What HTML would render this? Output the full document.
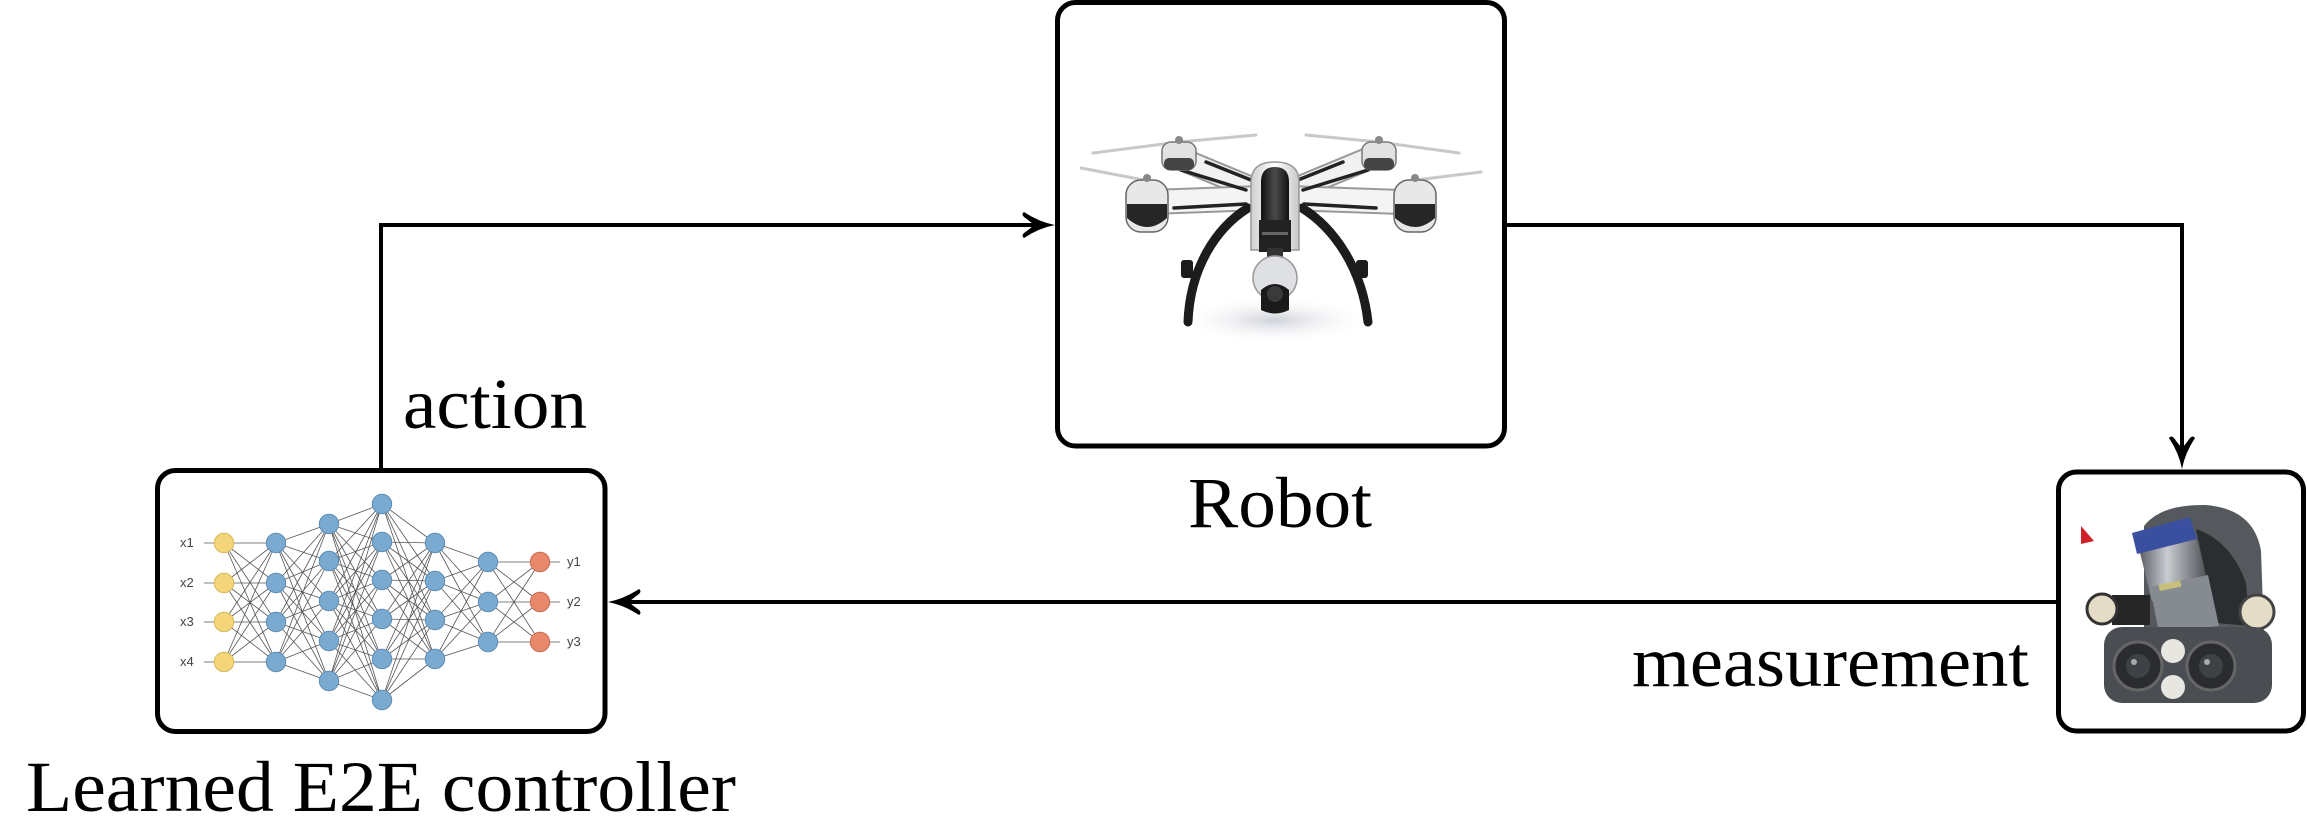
<!DOCTYPE html>
<html>
<head>
<meta charset="utf-8">
<style>
  html,body{margin:0;padding:0;background:#fff;}
  svg{display:block;}
  .lbl{font-family:"Liberation Serif","DejaVu Serif",serif;font-size:72px;fill:#000;}
  .nn{font-family:"Liberation Sans","DejaVu Sans",sans-serif;font-size:13px;fill:#444;}
</style>
</head>
<body>
<svg width="2307" height="834" viewBox="0 0 2307 834" xmlns="http://www.w3.org/2000/svg">
  <defs>
    <radialGradient id="shadow" cx="50%" cy="50%" r="50%">
      <stop offset="0%" stop-color="#cfd1da"/>
      <stop offset="100%" stop-color="#ffffff" stop-opacity="0"/>
    </radialGradient>
    <linearGradient id="shell" x1="0" y1="0" x2="1" y2="0">
      <stop offset="0%" stop-color="#cfcfcf"/>
      <stop offset="50%" stop-color="#ffffff"/>
      <stop offset="100%" stop-color="#c8c8c8"/>
    </linearGradient>
    <linearGradient id="inner" x1="0" y1="0" x2="1" y2="0">
      <stop offset="0%" stop-color="#111"/>
      <stop offset="50%" stop-color="#4a4a4a"/>
      <stop offset="100%" stop-color="#111"/>
    </linearGradient>
    <linearGradient id="cyl" x1="0" y1="0" x2="1" y2="0">
      <stop offset="0%" stop-color="#5e6266"/>
      <stop offset="40%" stop-color="#c9ccd0"/>
      <stop offset="100%" stop-color="#4a4e52"/>
    </linearGradient>
  </defs>

  <!-- Connectors -->
  <polyline points="381,470 381,225 1040,225" fill="none" stroke="#000" stroke-width="4"/>
  <polyline points="1505,225 2182,225 2182,455" fill="none" stroke="#000" stroke-width="4"/>
  <line x1="2056" y1="602" x2="622" y2="602" stroke="#000" stroke-width="4"/>

  <!-- Arrowheads -->
  <path transform="translate(1055,225)" d="M0 0 Q-16 3 -31 13 Q-34 11 -31 8 Q-24 3 -21 0 Q-24 -3 -31 -8 Q-34 -11 -31 -13 Q-16 -3 0 0 Z" fill="#000"/>
  <path transform="translate(2182,469) rotate(90)" d="M0 0 Q-16 3 -31 13 Q-34 11 -31 8 Q-24 3 -21 0 Q-24 -3 -31 -8 Q-34 -11 -31 -13 Q-16 -3 0 0 Z" fill="#000"/>
  <path transform="translate(608,602) rotate(180)" d="M0 0 Q-16 3 -31 13 Q-34 11 -31 8 Q-24 3 -21 0 Q-24 -3 -31 -8 Q-34 -11 -31 -13 Q-16 -3 0 0 Z" fill="#000"/>

  <!-- Boxes -->
  <rect x="157.5" y="470.5" width="447.5" height="261" rx="18" ry="18" fill="#fff" stroke="#000" stroke-width="5"/>
  <rect x="1057.5" y="2.5" width="447" height="443.5" rx="18" ry="18" fill="#fff" stroke="#000" stroke-width="5"/>
  <rect x="2058.5" y="472" width="245" height="259" rx="18" ry="18" fill="#fff" stroke="#000" stroke-width="5"/>

  <!-- Neural network -->
  <g stroke="#555" stroke-width="0.8" fill="none">
    <path d="M224 543L276 543M224 543L276 583M224 543L276 622M224 543L276 662M224 583L276 543M224 583L276 583M224 583L276 622M224 583L276 662M224 622L276 543M224 622L276 583M224 622L276 622M224 622L276 662M224 662L276 543M224 662L276 583M224 662L276 622M224 662L276 662"/>
    <path d="M276 543L329 524M276 543L329 561M276 543L329 601M276 543L329 641M276 543L329 681M276 583L329 524M276 583L329 561M276 583L329 601M276 583L329 641M276 583L329 681M276 622L329 524M276 622L329 561M276 622L329 601M276 622L329 641M276 622L329 681M276 662L329 524M276 662L329 561M276 662L329 601M276 662L329 641M276 662L329 681"/>
    <path d="M329 524L382 504M329 524L382 542M329 524L382 580M329 524L382 619M329 524L382 659M329 524L382 700M329 561L382 504M329 561L382 542M329 561L382 580M329 561L382 619M329 561L382 659M329 561L382 700M329 601L382 504M329 601L382 542M329 601L382 580M329 601L382 619M329 601L382 659M329 601L382 700M329 641L382 504M329 641L382 542M329 641L382 580M329 641L382 619M329 641L382 659M329 641L382 700M329 681L382 504M329 681L382 542M329 681L382 580M329 681L382 619M329 681L382 659M329 681L382 700"/>
    <path d="M382 504L435 543M382 504L435 581M382 504L435 620M382 504L435 659M382 542L435 543M382 542L435 581M382 542L435 620M382 542L435 659M382 580L435 543M382 580L435 581M382 580L435 620M382 580L435 659M382 619L435 543M382 619L435 581M382 619L435 620M382 619L435 659M382 659L435 543M382 659L435 581M382 659L435 620M382 659L435 659M382 700L435 543M382 700L435 581M382 700L435 620M382 700L435 659"/>
    <path d="M435 543L488 562M435 543L488 602M435 543L488 642M435 581L488 562M435 581L488 602M435 581L488 642M435 620L488 562M435 620L488 602M435 620L488 642M435 659L488 562M435 659L488 602M435 659L488 642"/>
    <path d="M488 562L540 562M488 562L540 602M488 562L540 642M488 602L540 562M488 602L540 602M488 602L540 642M488 642L540 562M488 642L540 602M488 642L540 642"/>
    <path d="M204 543L214 543M204 583L214 583M204 622L214 622M204 662L214 662M550 562L560 562M550 602L560 602M550 642L560 642"/>
  </g>
  <g stroke-width="1">
    <g fill="#f4d57a" stroke="#d6b75a">
      <circle cx="224" cy="543" r="9.7"/><circle cx="224" cy="583" r="9.7"/><circle cx="224" cy="622" r="9.7"/><circle cx="224" cy="662" r="9.7"/>
    </g>
    <g fill="#7aaad0" stroke="#5e8db5">
      <circle cx="276" cy="543" r="9.7"/><circle cx="276" cy="583" r="9.7"/><circle cx="276" cy="622" r="9.7"/><circle cx="276" cy="662" r="9.7"/>
      <circle cx="329" cy="524" r="9.7"/><circle cx="329" cy="561" r="9.7"/><circle cx="329" cy="601" r="9.7"/><circle cx="329" cy="641" r="9.7"/><circle cx="329" cy="681" r="9.7"/>
      <circle cx="382" cy="504" r="9.7"/><circle cx="382" cy="542" r="9.7"/><circle cx="382" cy="580" r="9.7"/><circle cx="382" cy="619" r="9.7"/><circle cx="382" cy="659" r="9.7"/><circle cx="382" cy="700" r="9.7"/>
      <circle cx="435" cy="543" r="9.7"/><circle cx="435" cy="581" r="9.7"/><circle cx="435" cy="620" r="9.7"/><circle cx="435" cy="659" r="9.7"/>
      <circle cx="488" cy="562" r="9.7"/><circle cx="488" cy="602" r="9.7"/><circle cx="488" cy="642" r="9.7"/>
    </g>
    <g fill="#e8896c" stroke="#c96c52">
      <circle cx="540" cy="562" r="9.7"/><circle cx="540" cy="602" r="9.7"/><circle cx="540" cy="642" r="9.7"/>
    </g>
  </g>
  <g class="nn">
    <text x="180" y="547">x1</text>
    <text x="180" y="587">x2</text>
    <text x="180" y="626">x3</text>
    <text x="180" y="666">x4</text>
    <text x="567" y="566">y1</text>
    <text x="567" y="606">y2</text>
    <text x="567" y="646">y3</text>
  </g>

  <!-- Drone -->
  <g transform="translate(1056,100)">
    <ellipse cx="218" cy="220" rx="100" ry="24" fill="url(#shadow)"/>
    <!-- propellers -->
    <g stroke="#c8c8c8" stroke-width="3" stroke-linecap="round" fill="none">
      <path d="M37 53 L123 42 L200 35"/>
      <path d="M25 68 L88 80"/>
      <path d="M250 35 L323 42 L403 53"/>
      <path d="M360 80 L425 72"/>
    </g>
    <!-- arms -->
    <g stroke-linecap="round" fill="none">
      <path d="M205 92 L123 58" stroke="#999" stroke-width="24"/>
      <path d="M205 92 L123 58" stroke="#f1f1f1" stroke-width="20"/>
      <path d="M232 92 L314 58" stroke="#999" stroke-width="24"/>
      <path d="M232 92 L314 58" stroke="#f1f1f1" stroke-width="20"/>
      <path d="M205 98 L95 102" stroke="#999" stroke-width="26"/>
      <path d="M205 98 L95 102" stroke="#f4f4f4" stroke-width="22"/>
      <path d="M232 98 L345 102" stroke="#999" stroke-width="26"/>
      <path d="M232 98 L345 102" stroke="#f4f4f4" stroke-width="22"/>
    </g>
    <g stroke="#222" stroke-width="3.5" fill="none" stroke-linecap="round">
      <path d="M125 70 L190 90"/><path d="M118 108 L190 104"/><path d="M150 62 L195 80"/>
      <path d="M312 70 L247 90"/><path d="M320 108 L248 104"/><path d="M287 62 L242 80"/>
    </g>
    <!-- back motors -->
    <rect x="106" y="42" width="34" height="28" rx="9" fill="#e2e2e2" stroke="#777" stroke-width="1.5"/>
    <rect x="108" y="58" width="30" height="12" rx="5" fill="#444"/>
    <rect x="306" y="42" width="34" height="28" rx="9" fill="#e2e2e2" stroke="#777" stroke-width="1.5"/>
    <rect x="308" y="58" width="30" height="12" rx="5" fill="#444"/>
    <!-- front motors -->
    <rect x="70" y="80" width="42" height="52" rx="15" fill="#e8e8e8" stroke="#666" stroke-width="1.5"/>
    <path d="M71 104 L111 104 L111 118 Q91 136 71 118 Z" fill="#262626"/>
    <rect x="338" y="80" width="42" height="52" rx="15" fill="#e8e8e8" stroke="#666" stroke-width="1.5"/>
    <path d="M339 104 L379 104 L379 118 Q359 136 339 118 Z" fill="#262626"/>
    <circle cx="91" cy="78" r="4" fill="#888"/>
    <circle cx="359" cy="78" r="4" fill="#888"/>
    <circle cx="123" cy="40" r="4" fill="#888"/>
    <circle cx="323" cy="40" r="4" fill="#888"/>
    <!-- legs -->
    <g stroke="#1c1c1c" stroke-width="9" fill="none" stroke-linecap="round">
      <path d="M192 108 C160 128 134 168 132 222"/>
      <path d="M246 108 C278 128 306 168 312 222"/>
    </g>
    <rect x="125" y="160" width="12" height="18" rx="3" fill="#1c1c1c"/>
    <rect x="300" y="160" width="12" height="18" rx="3" fill="#1c1c1c"/>
    <!-- body -->
    <path d="M195 150 L195 82 Q195 62 219 62 Q243 62 243 82 L243 150 Z" fill="url(#shell)" stroke="#999" stroke-width="1.5"/>
    <path d="M205 122 L205 82 Q205 67 219 67 Q233 67 233 82 L233 122 Z" fill="url(#inner)"/>
    <rect x="203" y="120" width="32" height="32" fill="#222"/>
    <rect x="206" y="132" width="26" height="3" fill="#666"/>
    <!-- gimbal -->
    <rect x="211" y="148" width="16" height="10" fill="#333"/>
    <circle cx="219" cy="178" r="22" fill="#dfe0e3" stroke="#999" stroke-width="1.5"/>
    <path d="M205 190 Q219 178 233 190 L233 210 Q219 217 205 210 Z" fill="#1a1a1a"/>
    <circle cx="219" cy="194" r="8" fill="#3a3a3a"/>
  </g>

  <!-- Sensor -->
  <g transform="translate(2056,471)">
    <polygon points="25,55 38,70 25,73" fill="#d0202a"/>
    <path d="M88 55 Q105 33 150 34 Q198 38 205 80 L208 165 L88 168 Z" fill="#55595d"/>
    <path d="M140 58 Q175 70 190 112 L194 155 L160 152 Z" fill="#2b2e31"/>
    <polygon points="84,82 140,66 152,112 96,130" fill="url(#cyl)"/>
    <polygon points="76,62 134,46 141,68 81,83" fill="#3b4fa0"/>
    <polygon points="94,116 152,104 163,155 103,162" fill="#858b90"/>
    <rect x="103" y="112" width="22" height="6" fill="#c9c07a" transform="rotate(-12 113 115)"/>
    <rect x="56" y="124" width="38" height="30" fill="#262626"/>
    <circle cx="46" cy="138" r="15" fill="#e4dcc6" stroke="#333" stroke-width="3"/>
    <circle cx="201" cy="141" r="17" fill="#e4dcc6" stroke="#444" stroke-width="3"/>
    <rect x="48" y="156" width="168" height="76" rx="18" fill="#4a4e52"/>
    <circle cx="82" cy="195" r="24" fill="#2a2c30" stroke="#666" stroke-width="3"/>
    <circle cx="82" cy="195" r="12" fill="#3e4146"/>
    <circle cx="78" cy="191" r="3" fill="#aaa"/>
    <circle cx="155" cy="195" r="24" fill="#2a2c30" stroke="#666" stroke-width="3"/>
    <circle cx="155" cy="195" r="12" fill="#3e4146"/>
    <circle cx="151" cy="191" r="3" fill="#aaa"/>
    <circle cx="117" cy="180" r="12" fill="#e8e6e0"/>
    <circle cx="117" cy="216" r="12" fill="#e8e6e0"/>
  </g>

  <!-- Labels -->
  <text class="lbl" x="403" y="428" textLength="184" lengthAdjust="spacingAndGlyphs">action</text>
  <text class="lbl" x="26" y="811" textLength="710" lengthAdjust="spacingAndGlyphs">Learned E2E controller</text>
  <text class="lbl" x="1188" y="527" textLength="184" lengthAdjust="spacingAndGlyphs">Robot</text>
  <text class="lbl" x="1632" y="686" textLength="397" lengthAdjust="spacingAndGlyphs">measurement</text>
</svg>
</body>
</html>
